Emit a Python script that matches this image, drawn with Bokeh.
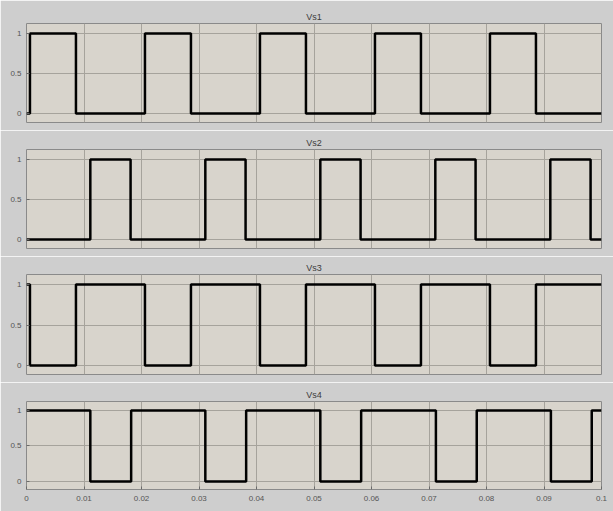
from bokeh.plotting import figure
from bokeh.layouts import column
from bokeh.models import Range1d, FixedTicker
from bokeh.embed import file_html
from bokeh.resources import INLINE

# ---- data (switching instants in seconds, and signal levels) ----
time_vs1 = [0, 0.0006, 0.0086, 0.0206, 0.0286, 0.0406, 0.0486, 0.0606, 0.0686, 0.0806, 0.0886, 0.1]
level_vs1 = [0, 1, 0, 1, 0, 1, 0, 1, 0, 1, 0, 0]

time_vs2 = [0, 0.0111, 0.0181, 0.0311, 0.0381, 0.0511, 0.0581, 0.0711, 0.0781, 0.0911, 0.0981, 0.1]
level_vs2 = [0, 1, 0, 1, 0, 1, 0, 1, 0, 1, 0, 0]

time_vs3 = [0, 0.0006, 0.0086, 0.0206, 0.0286, 0.0406, 0.0486, 0.0606, 0.0686, 0.0806, 0.0886, 0.1]
level_vs3 = [1, 0, 1, 0, 1, 0, 1, 0, 1, 0, 1, 1]

time_vs4 = [0, 0.0111, 0.0182, 0.0311, 0.0382, 0.0511, 0.0582, 0.0712, 0.0783, 0.0912, 0.0983, 0.1]
level_vs4 = [1, 0, 1, 0, 1, 0, 1, 0, 1, 0, 1, 1]

titles = ["Vs1", "Vs2", "Vs3", "Vs4"]
x_ticks = [0, 0.01, 0.02, 0.03, 0.04, 0.05, 0.06, 0.07, 0.08, 0.09, 0.1]
x_tick_labels = ["0", "0.01", "0.02", "0.03", "0.04", "0.05", "0.06", "0.07", "0.08", "0.09", "0.1"]
y_ticks = [0, 0.5, 1]
y_tick_labels = ["0", "0.5", "1"]

series = [(time_vs1, level_vs1), (time_vs2, level_vs2), (time_vs3, level_vs3), (time_vs4, level_vs4)]

OUTER = "#cecece"
INNER = "#d8d4cc"
GRID = "#a6a39c"
FONT = "Liberation Sans"

heights = [130, 126, 126, 129]
tops = [23, 19, 18, 19]
bottoms = [8, 8, 8, 22]

figs = []
for i, (t, v) in enumerate(series):
    last = (i == 3)
    p = figure(width=613, height=heights[i], output_backend="svg", toolbar_location=None,
               x_range=Range1d(0, 0.1), y_range=Range1d(-0.112, 1.125),
               min_border_left=26, min_border_right=12,
               min_border_top=tops[i], min_border_bottom=bottoms[i])
    p.background_fill_color = INNER
    p.border_fill_color = OUTER
    p.outline_line_color = "#8a8a8a"
    p.outline_line_width = 1

    p.title.text = titles[i]
    p.title.align = "center"
    p.title.text_font = FONT
    p.title.text_font_size = "9px"
    p.title.text_font_style = "normal"
    p.title.text_color = "#3c3c3c"
    p.title.standoff = 4
    p.title.offset = 0

    p.xaxis.ticker = FixedTicker(ticks=x_ticks)
    p.yaxis.ticker = FixedTicker(ticks=y_ticks)
    p.yaxis.major_label_overrides = {tk: lb for tk, lb in zip(y_ticks, y_tick_labels)}
    p.xaxis.major_label_overrides = {tk: lb for tk, lb in zip(x_ticks, x_tick_labels)}
    for ax in (p.xaxis, p.yaxis):
        ax.axis_line_color = None
        ax.major_tick_in = 3
        ax.major_tick_out = 0
        ax.major_tick_line_color = "#6a6a6a"
        ax.minor_tick_line_color = None
        ax.major_label_text_font = FONT
        ax.major_label_text_font_size = "8px"
        ax.major_label_text_color = "#555555"
    p.yaxis.major_label_standoff = 5
    if last:
        p.xaxis.major_label_standoff = 6
    else:
        p.xaxis.visible = False

    p.xgrid.ticker = FixedTicker(ticks=x_ticks)
    p.ygrid.ticker = FixedTicker(ticks=y_ticks)
    for g in (p.xgrid, p.ygrid):
        g.grid_line_color = GRID
        g.grid_line_alpha = 1
        g.grid_line_width = 1

    p.step(t, v, mode="after", line_color="black", line_width=2.5)
    figs.append(p)

layout = column(*figs, spacing=0)
open("out.html", "w").write(file_html(layout, INLINE))
